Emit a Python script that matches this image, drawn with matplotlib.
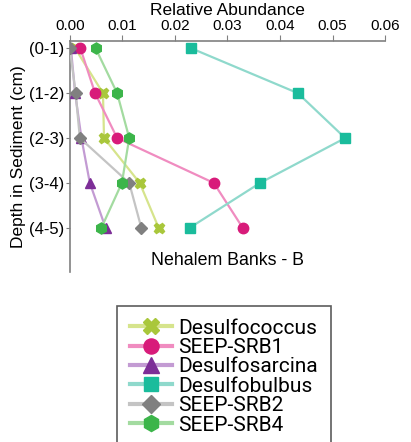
import matplotlib
matplotlib.use("Agg")
import matplotlib.pyplot as plt
from matplotlib.lines import Line2D

depths = ["(0-1)", "(1-2)", "(2-3)", "(3-4)", "(4-5)"]
series_names = ["Desulfococcus", "SEEP-SRB1", "Desulfosarcina", "Desulfobulbus", "SEEP-SRB2", "SEEP-SRB4"]
desulfococcus = [0.0010, 0.0063, 0.0065, 0.0133, 0.0169]
seep_srb1 = [0.0020, 0.0048, 0.0090, 0.0274, 0.0329]
desulfosarcina = [0.0002, 0.0010, 0.0022, 0.0038, 0.0068]
desulfobulbus = [0.0231, 0.0434, 0.0524, 0.0362, 0.0228]
seep_srb2 = [0.0000, 0.0011, 0.0019, 0.0113, 0.0136]
seep_srb4 = [0.0049, 0.0090, 0.0113, 0.0099, 0.0060]
x_ticks = [0.00, 0.01, 0.02, 0.03, 0.04, 0.05, 0.06]

values = [desulfococcus, seep_srb1, desulfosarcina, desulfobulbus, seep_srb2, seep_srb4]
line_colors = ["#d6e48c", "#f08cc0", "#c39bd3", "#8fd9cc", "#c4c4c4", "#a3dba0"]
marker_colors = ["#a9c73b", "#d81b7a", "#7d2e97", "#1abc9c", "#808080", "#3cb54a"]
markers = ["X", "o", "^", "s", "D", "h"]
msizes = [7.5, 7.5, 7.5, 7, 6.5, 8]

fig = plt.figure(figsize=(4.11, 4.42), dpi=100)
ax = fig.add_axes([0.170, 0.385, 0.767, 0.522])

ypos = list(range(len(depths)))
order = [3, 1, 0, 2, 5, 4]
for i in order:
    ax.plot(values[i], ypos, color=line_colors[i], lw=1.6, marker=markers[i],
            markersize=msizes[i], markerfacecolor=marker_colors[i],
            markeredgecolor=marker_colors[i], zorder=3 + i * 0.1)

ax.set_xlim(0, 0.06)
ax.set_ylim(4.98, -0.16)
ax.xaxis.tick_top()
ax.xaxis.set_label_position("top")
ax.set_xticks(x_ticks)
ax.set_xticklabels([f"{t:.2f}" for t in x_ticks], fontsize=11, family="Liberation Sans")
ax.set_yticks(ypos)
ax.set_yticklabels(depths, fontsize=12, family="Liberation Sans")
ax.tick_params(axis="x", direction="out", length=4, color="#808080", pad=2)
ax.tick_params(axis="y", direction="out", length=3, color="#808080", pad=1)
for s in ["right", "bottom"]:
    ax.spines[s].set_visible(False)
for s in ["top", "left"]:
    ax.spines[s].set_color("#808080")
    ax.spines[s].set_linewidth(1.2)
ax.set_xlabel("Relative Abundance", fontsize=12.5, family="Liberation Sans", labelpad=3)
ax.set_ylabel("Depth in Sediment (cm)", fontsize=12.5, family="Liberation Sans", labelpad=2)
ax.text(0.5, 0.05, "Nehalem Banks - B", transform=ax.transAxes, ha="center", va="center",
        fontsize=12.8, family="Liberation Sans")

proxies = [Line2D([], [], color=line_colors[i], lw=3, marker=markers[i],
                  markersize=msizes[i] * 1.45, markerfacecolor=marker_colors[i],
                  markeredgecolor=marker_colors[i]) for i in range(6)]
leg = fig.legend(proxies, series_names, loc="upper left",
                 bbox_to_anchor=(117 / 411, 1 - 306 / 442), prop={"family": "Roboto", "size": 15},
                 handlelength=2.05, handletextpad=0.3, labelspacing=0.02,
                 frameon=True, fancybox=False, edgecolor="#333333", borderpad=0.6,
                 borderaxespad=0)
leg.get_frame().set_linewidth(1.2)

fig.savefig("out.png", dpi=100)
